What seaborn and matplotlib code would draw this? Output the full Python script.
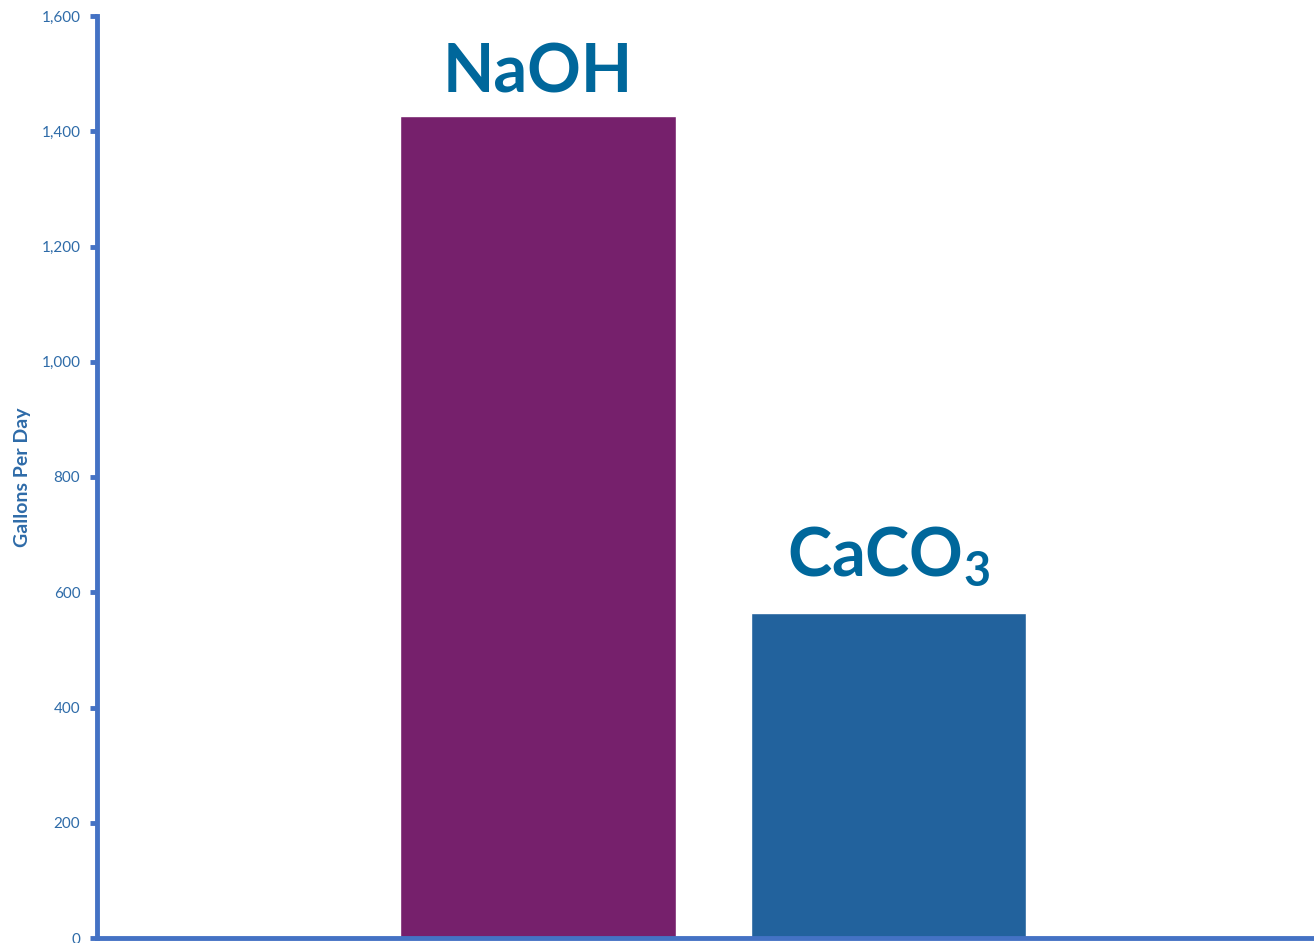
import matplotlib
matplotlib.use("Agg")
import matplotlib.pyplot as plt
import seaborn as sns
import pandas as pd
from matplotlib.ticker import FuncFormatter, MultipleLocator

# Daily chemical consumption
chemicals = ["NaOH", "CaCO$_3$"]
gallons_per_day = [1427, 564]
bar_colors = ["#76206C", "#22629D"]

sns.set_theme(style="white")
plt.rcParams["font.family"] = ["Lato", "DejaVu Sans"]
plt.rcParams["mathtext.fontset"] = "custom"
plt.rcParams["mathtext.rm"] = "Lato:bold"
plt.rcParams["mathtext.it"] = "Lato:bold"
plt.rcParams["mathtext.bf"] = "Lato:bold"

df = pd.DataFrame({"chemical": chemicals, "gallons": gallons_per_day})

fig = plt.figure(figsize=(13.14, 9.43), dpi=100)
ax = fig.add_axes([97 / 1314, 5 / 943, 1 - 97 / 1314, (938 - 16) / 943])

sns.barplot(data=df, x="chemical", y="gallons", hue="chemical",
            palette=bar_colors, width=0.787, saturation=1, legend=False, ax=ax)

ax.set_xlim(-1.258, 2.214)
ax.set_ylim(0, 1600)
ax.yaxis.set_major_locator(MultipleLocator(200))
ax.yaxis.set_major_formatter(FuncFormatter(lambda v, _: f"{int(v):,}"))

axis_color = "#4472C4"
tick_color = "#2E6BA8"
for side in ["top", "right"]:
    ax.spines[side].set_visible(False)
for side in ["left", "bottom"]:
    ax.spines[side].set_color(axis_color)
    ax.spines[side].set_linewidth(3.5)
ax.tick_params(axis="y", which="major", left=True, length=5, width=3.5,
               color=axis_color, labelsize=11, labelcolor=tick_color, pad=7)
ax.tick_params(axis="x", bottom=False, labelbottom=False)
ax.set_xlabel("")
ax.set_ylabel("Gallons Per Day", fontsize=14, fontweight="bold", color=tick_color)
ax.yaxis.set_label_coords(-0.054, 0.5)

label_color = "#00679B"
label_offsets = [17, 27]
for i, (name, val) in enumerate(zip(chemicals, gallons_per_day)):
    ax.annotate(name, xy=(i, val), xytext=(0, label_offsets[i]), textcoords="offset points",
                ha="center", va="baseline", fontsize=48, fontweight="bold", color=label_color)

fig.savefig("out.png", dpi=100)
